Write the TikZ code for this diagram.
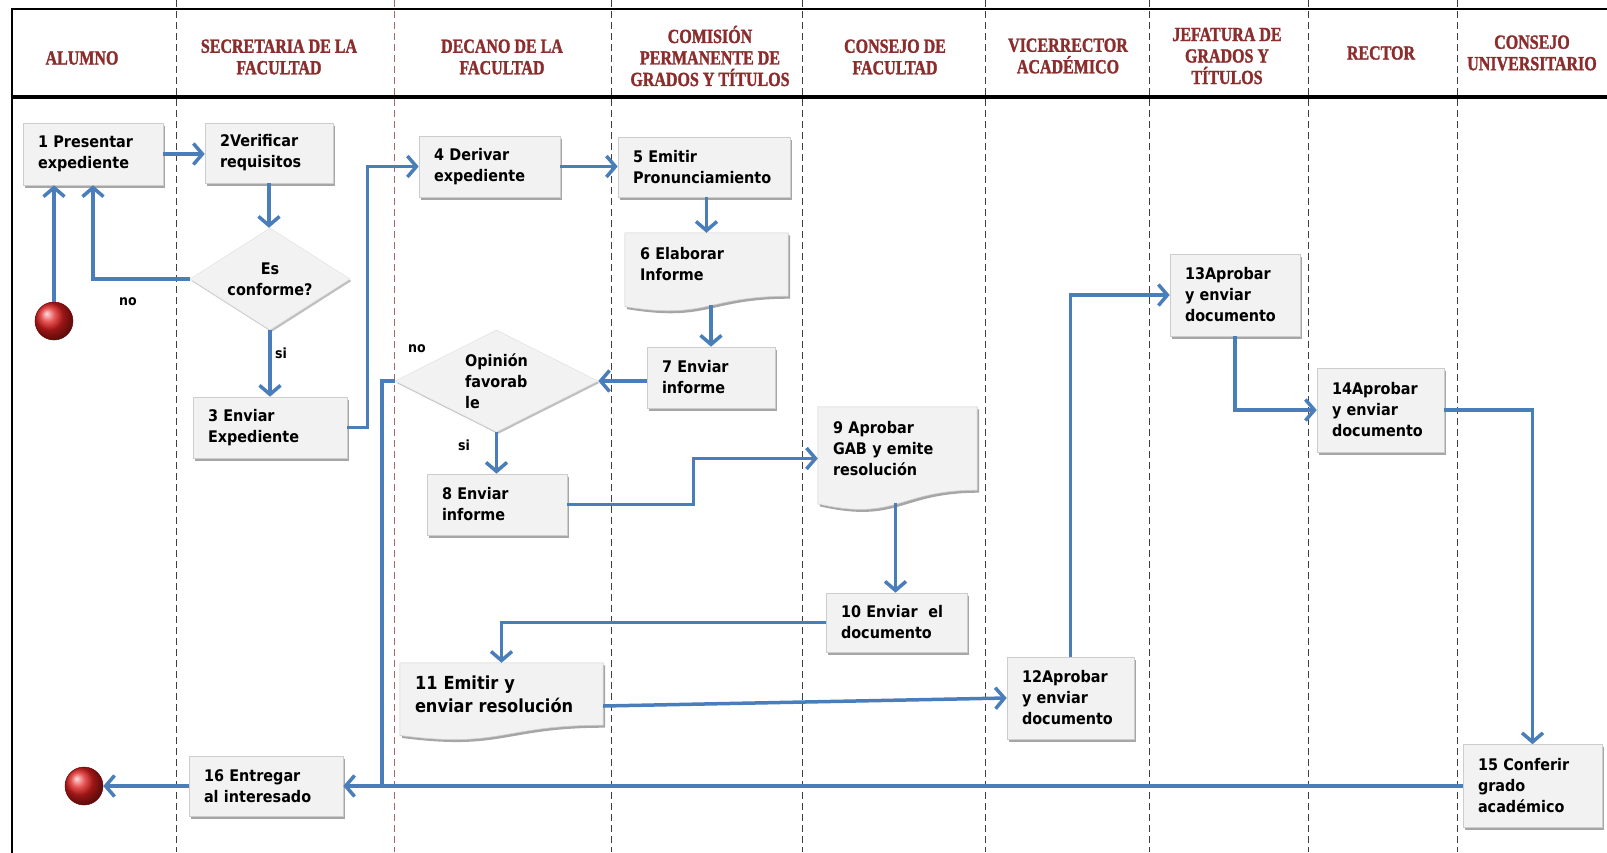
\documentclass[tikz,border=0pt]{standalone}
\usepackage{fontspec}
\setmainfont{DejaVu Sans}
\newfontfamily\bodyfont[FakeStretch=0.9]{DejaVu Sans}
\newfontfamily\headfont[FakeStretch=0.8, BoldFeatures={FakeBold=1.5}]{Liberation Serif}
\usetikzlibrary{arrows.meta,shapes.geometric,shadows,calc}
\pgfdeclarelayer{lanes}
\pgfdeclarelayer{docs}
\pgfsetlayers{lanes,docs,main}

\definecolor{flow}{RGB}{74,126,187}
\definecolor{boxfill}{RGB}{242,242,242}
\definecolor{boxline}{RGB}{205,205,205}
\definecolor{headred}{RGB}{140,45,45}
\definecolor{lanered}{RGB}{165,105,105}
\definecolor{ballred}{RGB}{225,30,30}

% document shape (wavy bottom) around a rectangular node of height #2
\newcommand\drawdocshape[2]{%
  \path[docfill] (#1.north west) -- (#1.north east) -- (#1.south east)
    .. controls (#1.south) and ($(#1.south)+(0,#2*0.381)$) ..
    ($(#1.south west)+(0,#2*0.165)$) -- cycle;}

\tikzset{
  x=1pt, y=-1pt,
  lane/.style={dash pattern=on 7pt off 4pt, line width=1pt, black!75},
  head/.style={font=\headfont\bfseries\fontsize{20}{21.5}\selectfont,
    text=headred, align=center},
  boxstyle/.style={fill=boxfill, draw=boxline, line width=0.6pt,
    drop shadow={shadow xshift=2pt, shadow yshift=-2.5pt, opacity=0.35, fill=black}},
  txt/.style={font=\bodyfont\bfseries\fontsize{16}{21}\selectfont, align=left,
    inner xsep=15pt, inner ysep=0pt},
  proc/.style 2 args={rectangle, boxstyle, txt, minimum width=#1pt,
    minimum height=#2pt, /utils/exec={\pgfmathsetmacro\twidth{#1-30}},
    text width=\twidth pt},
  doc/.style 2 args={rectangle, txt, minimum width=#1pt,
    minimum height=#2pt, /utils/exec={\pgfmathsetmacro\twidth{#1-30}},
    text width=\twidth pt},
  docfill/.style={boxstyle},
  decision/.style 2 args={diamond, fill=boxfill, draw=boxline!60, line width=0.5pt,
    drop shadow={shadow xshift=1.5pt, shadow yshift=-2pt, opacity=0.25, fill=black},
    font=\bodyfont\bfseries\fontsize{16}{21}\selectfont, align=center,
    minimum width=#1pt, minimum height=#2pt, inner sep=0pt},
  flowline/.style={draw=flow, line width=3.5pt},
  flowarrow/.style={flowline, -{Straight Barb[length=9pt,width=21pt]}},
  lbl/.style={font=\bodyfont\bfseries\fontsize{14}{16}\selectfont, inner sep=1pt},
  endpoint/.style={circle, minimum size=38pt, inner sep=0pt, shading=ball,
    ball color=ballred, draw=red!45!black, line width=0.5pt}
}

\begin{document}
\begin{tikzpicture}
\useasboundingbox (0,0) rectangle (1607,852);

% swimlane separators
\begin{pgfonlayer}{lanes}
  \foreach \lx in {176,611,802.5,985,1149,1308,1457}
    \draw[lane] (\lx,0) -- (\lx,852);
  \draw[lane, lanered] (394,0) -- (394,852);
\end{pgfonlayer}

% header frame
\draw[line width=2.5pt] (12,860) -- (12,9) -- (1620,9);
\draw[line width=3.5pt] (12,97) -- (1620,97);

% lane titles
\node[head] (h1) at (82,58) {ALUMNO};
\node[head] (h2) at (279,57) {SECRETARIA DE LA\\FACULTAD};
\node[head] (h3) at (502,57) {DECANO DE LA\\FACULTAD};
\node[head] (h4) at (710,56) {COMISIÓN\\PERMANENTE DE\\GRADOS Y TÍTULOS};
\node[head] (h5) at (895,57) {CONSEJO DE\\FACULTAD};
\node[head] (h6) at (1068,56) {VICERRECTOR\\ACADÉMICO};
\node[head] (h7) at (1227,56) {JEFATURA DE\\GRADOS Y\\TÍTULOS};
\node[head] (h8) at (1381,53) {RECTOR};
\node[head] (h9) at (1532,53) {CONSEJO\\UNIVERSITARIO};

% start and end
\node[endpoint] (start) at (54,321) {};
\node[endpoint] (finish) at (84,786) {};

% activities
\node[proc={140}{62}] (b1) at (93,154) {1 Presentar\\expediente};
\node[proc={128}{60}] (b2) at (269,153) {2Verificar\\requisitos};
\node[decision={160}{102}, aspect=1.6] (d1) at (270,279) {Es\\conforme?};
\node[proc={154}{61}] (b3) at (270,427.5) {3 Enviar\\Expediente};
\node[proc={141}{61}] (b4) at (489.5,166.5) {4 Derivar\\expediente};
\node[proc={172}{60}] (b5) at (704,167) {5 Emitir\\Pronunciamiento};
\node[doc={163}{63}] (b6) at (706.5,264.5) {6 Elaborar\\Informe};
\node[proc={128}{61}] (b7) at (711,377.5) {7 Enviar\\informe};
\node[decision={203}{102}, aspect=2, align=left] (d2) at (496.5,381) {Opinión\\favorab\\le};
\node[proc={140}{61}] (b8) at (497,504.5) {8 Enviar\\informe};
\node[doc={159}{83}] (b9) at (897.5,448.5) {9 Aprobar\\GAB y emite\\resolución};
\node[proc={141}{59}] (b10) at (896.5,622.5) {10 Enviar\ \ el\\documento};
\node[doc={203}{62}, font=\bodyfont\bfseries\fontsize{18}{23}\selectfont] (b11) at (501.5,694) {11 Emitir y\\enviar resolución};
\node[proc={127}{82}] (b12) at (1070.5,698) {12Aprobar\\y enviar\\documento};
\node[proc={130}{82}] (b13) at (1235,295) {13Aprobar\\y enviar\\documento};
\node[proc={127}{84}] (b14) at (1380.5,410) {14Aprobar\\y enviar\\documento};
\node[proc={139}{83}] (b15) at (1532.5,786) {15 Conferir\\grado\\académico};
\node[proc={154}{60}] (b16) at (266,786) {16 Entregar\\al interesado};

\begin{pgfonlayer}{docs}
  \drawdocshape{b6}{63}
  \drawdocshape{b9}{83}
  \drawdocshape{b11}{62}
\end{pgfonlayer}

% decision labels
\node[lbl] (no1) at (128,302) {no};
\node[lbl] (si1) at (281,353) {si};
\node[lbl] (no2) at (417,349) {no};
\node[lbl] (si2) at (464,445) {si};

% flow
\coordinate (nojoin) at (382,786);
\draw[flowarrow] (start.north) -- (start.north |- b1.south);
\draw[flowarrow] (d1.west) -| (b1.south);
\draw[flowarrow] (b1.east) -- (b1.east -| b2.west);
\draw[flowarrow] (b2.south) -- (b2.south |- d1.north);
\draw[flowarrow] (d1.south) -- (d1.south |- b3.north);
\draw[flowarrow] (b3.east) -- ++(20,0) |- (b4.west);
\draw[flowarrow] (b4.east) -- (b4.east -| b5.west);
\draw[flowarrow] (b6.north |- b5.south) -- (b6.north);
\draw[flowarrow] ($(b6.south -| b7.north)+(0,9)$) -- (b7.north);
\draw[flowarrow] (b7.west |- d2.east) -- (d2.east);
\draw[flowline] (d2.west) -| (nojoin);
\draw[flowarrow] (d2.south) -- (d2.south |- b8.north);
\draw[flowarrow] (b8.east) -- ++(126,0) |- ($(b9.west)+(0,10)$);
\draw[flowarrow] ($(b9.south)+(-2,13)$) -- ($(b9.south |- b10.north)+(-2,0)$);
\draw[flowarrow] (b10.west) -| (b11.north);
\draw[flowarrow] ($(b11.east)+(0,12)$) -- (b12.west);
\draw[flowarrow] (b12.north) |- (b13.west);
\draw[flowarrow] (b13.south) |- (b14.west);
\draw[flowarrow] (b14.east) -| (b15.north);
\draw[flowarrow] (b15.west) -- (b15.west -| b16.east);
\draw[flowarrow] (b16.west) -- (finish.east);
\end{tikzpicture}
\end{document}
